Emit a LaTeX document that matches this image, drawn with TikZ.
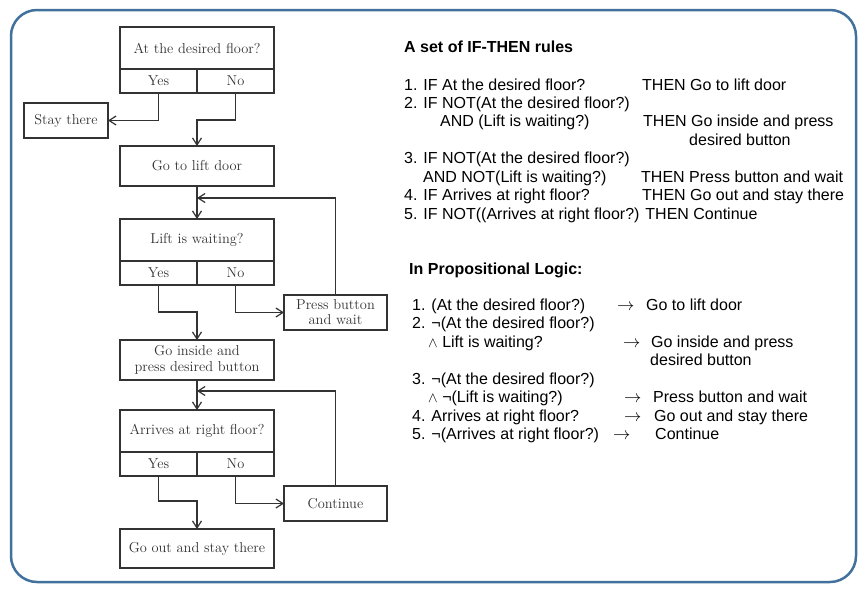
\documentclass[tikz,border=0pt]{standalone}
\usepackage{fontspec}
\newfontfamily\arialfont{Liberation Sans}
\usetikzlibrary{positioning, arrows.meta, calc}
\definecolor{frameblue}{HTML}{41719C}
\definecolor{flowgray}{HTML}{333333}
\newcommand{\andsym}{{\fontsize{14}{14}\selectfont$\wedge$}}
\newcommand{\impl}{{\fontsize{16}{16}\selectfont$\rightarrow$}}

\begin{document}
\begin{tikzpicture}[x=1pt, y=-1pt, >={Straight Barb[length=7pt,width=9pt]},
    flowbox/.style={draw=flowgray, line width=1.2pt, text=flowgray, minimum width=154pt,
        minimum height=40pt, inner sep=2pt, outer sep=0pt, align=center,
        font=\fontsize{14.4}{16}\selectfont},
    quest/.style={flowbox, minimum height=42pt},
    half/.style={flowbox, minimum width=77pt, minimum height=24pt},
    sidebox/.style={flowbox, minimum width=103pt, minimum height=35pt,
        font=\fontsize{14.4}{15}\selectfont},
    flowline/.style={draw=flowgray, line width=1.2pt, ->},
    heading/.style={anchor=base west, inner sep=0pt, font=\arialfont\bfseries\fontsize{16}{18}\selectfont},
    ruletext/.style={anchor=base west, inner sep=0pt, font=\arialfont\fontsize{16}{18}\selectfont}]

\useasboundingbox (0,0) rectangle (866,592);
\draw[frameblue, line width=2.5pt, rounded corners=26pt] (11,10) rectangle (856,582);

% flowchart
\node[quest] (floorq) at (197,48) {At the desired floor?};
\node[half, below left=0pt of floorq.south] (flooryes) {Yes};
\node[half, below right=0pt of floorq.south] (floorno) {No};
\node[flowbox, minimum width=84pt, minimum height=35pt, below left=10pt and 12pt of flooryes.south west] (stay) {Stay there};
\node[flowbox, below=53pt of flooryes.south east] (liftdoor) {Go to lift door};

\node[quest, below=33pt of liftdoor] (waitq) {Lift is waiting?};
\node[half, below left=0pt of waitq.south] (waityes) {Yes};
\node[half, below right=0pt of waitq.south] (waitno) {No};
\node[sidebox, below right=10pt and 10pt of waitno.south east] (pressbtn) {Press button\\and wait};
\node[flowbox, below=55pt of waityes.south east] (inside) {Go inside and\\press desired button};

\node[quest, below=30pt of inside] (arriveq) {Arrives at right floor?};
\node[half, below left=0pt of arriveq.south] (arriveyes) {Yes};
\node[half, below right=0pt of arriveq.south] (arriveno) {No};
\node[sidebox, below right=10pt and 10pt of arriveno.south east] (continue) {Continue};
\node[flowbox, minimum height=39pt, below=53pt of arriveyes.south east] (goout) {Go out and stay there};

\coordinate (backwait) at ($(liftdoor.south)+(0,12)$);
\coordinate (backarrive) at ($(inside.south)+(0,11)$);

\draw[flowline] (flooryes.south) |- (stay.east);
\draw[flowline] (floorno.south) -- ++(0,27) -| (liftdoor.north);
\draw[flowline] (liftdoor) -- (waitq);
\draw[flowline] (waityes.south) -- ++(0,27) -| (inside.north);
\draw[flowline] (waitno.south) |- (pressbtn.west);
\draw[flowline] (pressbtn.north) |- (backwait);
\draw[flowline] (inside) -- (arriveq);
\draw[flowline] (arriveyes.south) -- ++(0,25) -| (goout.north);
\draw[flowline] (arriveno.south) |- (continue.west);
\draw[flowline] (continue.north) |- (backarrive);

% rules
\node[heading] (rulestitle) at (404,52) {A set of IF-THEN rules};
\foreach \x/\y/\t in {404/90/{1. IF At the desired floor?}, 642/90/{THEN Go to lift door},
    404/108/{2. IF NOT(At the desired floor?)},
    440/126/{AND (Lift is waiting?)}, 643/126/{THEN Go inside and press},
    689/145/{desired button},
    404/163/{3. IF NOT(At the desired floor?)},
    423/182/{AND NOT(Lift is waiting?)}, 641/182/{THEN Press button and wait},
    404/200/{4. IF Arrives at right floor?}, 642/200/{THEN Go out and stay there},
    404/219/{5. IF NOT((Arrives at right floor?) THEN Continue}}
    \node[ruletext] (rule-\x-\y) at (\x,\y) {\t};

% propositional logic
\node[heading] (logictitle) at (409,274) {In Propositional Logic:};
\foreach \x/\y/\t in {412/310/{1. (At the desired floor?)}, 617/310/{\impl}, 646/310/{Go to lift door},
    412/328/{2. ¬(At the desired floor?)},
    428/347/{\andsym\ Lift is waiting?}, 623/347/{\impl}, 651/347/{Go inside and press},
    650/365/{desired button},
    412/384/{3. ¬(At the desired floor?)},
    428/402/{\andsym\ ¬(Lift is waiting?)}, 624/402/{\impl}, 653/402/{Press button and wait},
    412/421/{4. Arrives at right floor?}, 624/421/{\impl}, 654/421/{Go out and stay there},
    412/439/{5. ¬(Arrives at right floor?)}, 613/439/{\impl}, 655/439/{Continue}}
    \node[ruletext] (logic-\x-\y) at (\x,\y) {\t};

\end{tikzpicture}
\end{document}
